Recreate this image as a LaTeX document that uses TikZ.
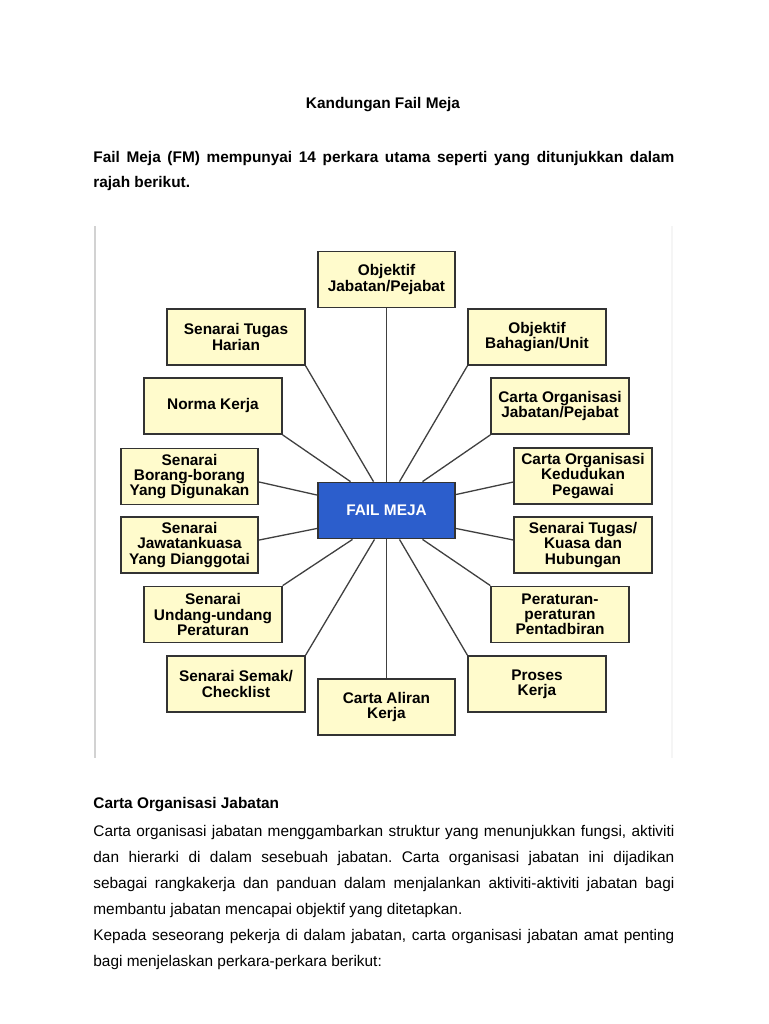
\documentclass[tikz,border=0pt]{standalone}
\usepackage{fontspec}
\setmainfont{Liberation Sans}
\usetikzlibrary{positioning}
\setlength{\parindent}{0pt}
\frenchspacing

\definecolor{boxfill}{RGB}{255,251,204}
\definecolor{failblue}{RGB}{44,94,204}

\begin{document}
\begin{tikzpicture}[
		x=0.5pt, y=-0.5pt,
		block/.style={draw=black!80, line width=0.9pt, fill=boxfill, minimum width=68.75pt, minimum height=28pt, inner sep=0pt, align=center, font=\fontsize{7.7}{7.6}\selectfont\bfseries},
		main/.style={block, fill=failblue, text=white},
		link/.style={draw=black!75, line width=0.65pt},
		txt/.style={anchor=base west, inner sep=0pt, text width=290.5pt, align=justify, font=\fontsize{7.7}{13}\selectfont},
	]
		\fill[white] (0,0) rectangle (768,1024);
		\useasboundingbox (0,0) rectangle (768,1024);

		% text above the chart
		\node (title) at (383,108) [anchor=base, inner sep=0pt, font=\fontsize{7.7}{9}\selectfont\bfseries] {Kandungan Fail Meja};
		\node (intro) at (93,162) [txt, font=\fontsize{7.7}{12.5}\selectfont\bfseries] {Fail Meja (FM) mempunyai 14 perkara utama seperti yang ditunjukkan dalam\linebreak rajah berikut.};

		% frame of the chart
		\draw[gray!35, line width=1pt] (94.5,226) -- (94.5,758);
		\draw[gray!8, line width=0.6pt] (672,226) -- (672,758);

		\node (fm) at (386.5,510.5) [main] {FAIL MEJA};
		\node (oj) at (386.5,279.5) [block] {Objektif\\Jabatan/Pejabat};
		\node (th) at (236,337) [block] {Senarai Tugas\\Harian};
		\node (nk) at (213,406) [block] {Norma Kerja};
		\node (sb) at (189.5,476.5) [block] {Senarai\\Borang-borang\\Yang Digunakan};
		\node (sj) at (189.5,545) [block] {Senarai\\Jawatankuasa\\Yang Dianggotai};
		\node (su) at (213,614.5) [block] {Senarai\\Undang-undang\\Peraturan};
		\node (ss) at (236,684) [block] {Senarai Semak/\\Checklist};
		\node (ca) at (386.5,707) [block] {Carta Aliran\\Kerja};
		\node (pk) at (537,684) [block] {Proses\\Kerja};
		\node (pp) at (560,614.5) [block] {Peraturan-\\peraturan\\Pentadbiran};
		\node (tk) at (583,545) [block] {Senarai Tugas/\\Kuasa dan\\Hubungan};
		\node (kp) at (583,476) [block] {Carta Organisasi\\Kedudukan\\Pegawai};
		\node (cj) at (560,406) [block] {Carta Organisasi\\Jabatan/Pejabat};
		\node (bu) at (537,337) [block] {Objektif\\Bahagian/Unit};

		\draw[link] (oj.south) -- (fm.north);
		\draw[link] (th.south east) -- ([xshift=-6.5pt]fm.north);
		\draw[link] (nk.south east) -- ([xshift=-18pt]fm.north);
		\draw[link] ([yshift=-2.75pt]sb.east) -- ([yshift=7.75pt]fm.west);
		\draw[link] ([yshift=2.5pt]sj.east) -- ([yshift=-9pt]fm.west);
		\draw[link] (su.north east) -- ([xshift=-17pt]fm.south);
		\draw[link] (ss.north east) -- ([xshift=-6pt]fm.south);
		\draw[link] (fm.south) -- (ca.north);
		\draw[link] (pk.north west) -- ([xshift=6.5pt]fm.south);
		\draw[link] (pp.north west) -- ([xshift=18pt]fm.south);
		\draw[link] ([yshift=2.5pt]tk.west) -- ([yshift=-9pt]fm.east);
		\draw[link] ([yshift=-3pt]kp.west) -- ([yshift=8pt]fm.east);
		\draw[link] (cj.south west) -- ([xshift=18pt]fm.north);
		\draw[link] (bu.south west) -- ([xshift=6.5pt]fm.north);

		% text below the chart
		\node (hd) at (93,808) [anchor=base west, inner sep=0pt, font=\fontsize{7.7}{9}\selectfont\bfseries] {Carta Organisasi Jabatan};
		\node (body) at (93,836) [txt] {Carta organisasi jabatan menggambarkan struktur yang menunjukkan fungsi, aktiviti\linebreak dan hierarki di dalam sesebuah jabatan. Carta organisasi jabatan ini dijadikan\linebreak sebagai rangkakerja dan panduan dalam menjalankan aktiviti-aktiviti jabatan bagi\linebreak membantu jabatan mencapai objektif yang ditetapkan.\par Kepada seseorang pekerja di dalam jabatan, carta organisasi jabatan amat penting\linebreak bagi menjelaskan perkara-perkara berikut:};
	\end{tikzpicture}
\end{document}
